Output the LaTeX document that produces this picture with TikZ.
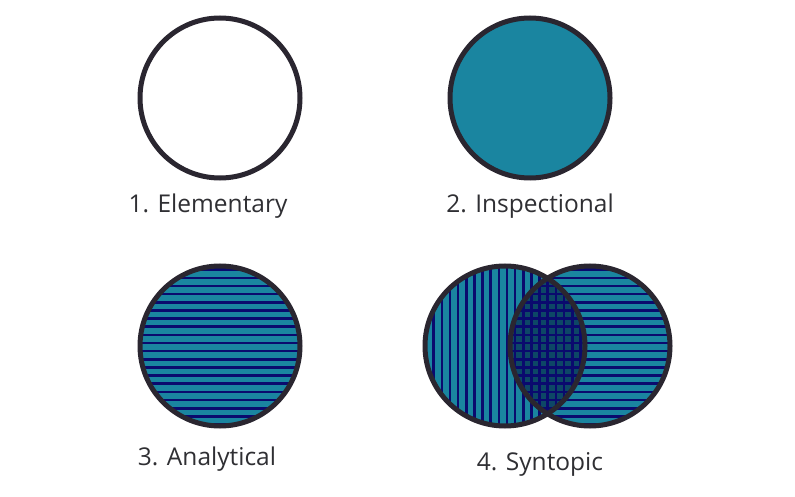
\documentclass[tikz,border=0pt]{standalone}
\usepackage{fontspec}
\setmainfont{Open Sans}
\usepackage{xcolor}
\usetikzlibrary{calc}

\definecolor{ring}{HTML}{2A2630}
\definecolor{teal}{HTML}{1A85A0}
\definecolor{navy}{HTML}{0A0A6E}
\definecolor{lens}{HTML}{0D4766}
\definecolor{caption}{HTML}{2F2F33}

\tikzset{
	outline/.style = {draw = ring, line width = 5pt},
	stripe/.style = {draw = navy, line width = 2.6pt},
	label/.style = {text = caption, font = \fontsize{24.5}{28}\selectfont, inner sep = 0pt}
}

\begin{document}
\begin{tikzpicture}[x = 1pt, y = -1pt]
			\def\R{80};
			\def\gap{8.15};

			\useasboundingbox (0,0) rectangle (795,497);

			% 1. plain circle
			\coordinate (elementary) at (220,98);
			\draw [outline, fill = white] (elementary) circle (\R);

			% 2. filled circle
			\coordinate (inspectional) at (530,98);
			\draw [outline, fill = teal] (inspectional) circle (\R);

			% 3. horizontal stripes
			\coordinate (analytical) at (220,346);
			\fill [teal] (analytical) circle (\R);
			\begin{scope}
				\clip (analytical) circle (\R);
				\foreach \k in {-10,...,10}
					\draw [stripe] ($(analytical) + (-\R, \k*\gap - 3)$) -- ++(2*\R, 0);
			\end{scope}
			\draw [outline] (analytical) circle (\R);

			% 4. two overlapping circles
			\coordinate (syntopicA) at (505,346);
			\coordinate (syntopicB) at (590,346);
			\fill [teal] (syntopicA) circle (\R);
			\fill [teal] (syntopicB) circle (\R);
			\begin{scope}
				\clip (syntopicA) circle (\R);
				\fill [lens] (syntopicB) circle (\R);
			\end{scope}
			\begin{scope}
				\clip (syntopicA) circle (\R);
				\foreach \k in {-10,...,10}
					\draw [stripe] ($(syntopicA) + (\k*\gap + 2, -\R)$) -- ++(0, 2*\R);
			\end{scope}
			\begin{scope}
				\clip (syntopicB) circle (\R);
				\foreach \k in {-10,...,10}
					\draw [stripe] ($(syntopicB) + (-\R, \k*\gap - 3)$) -- ++(2*\R, 0);
			\end{scope}
			\draw [outline] (syntopicA) circle (\R);
			\draw [outline] (syntopicB) circle (\R);

			% captions
			\node [label, anchor = base] (elementaryText) at (208,213) {1. Elementary};
			\node [label, anchor = base] (inspectionalText) at (530,213) {2. Inspectional};
			\node [label, anchor = base] (analyticalText) at (207,465) {3. Analytical};
			\node [label, anchor = base] (syntopicText) at (540,470) {4. Syntopic};
		\end{tikzpicture}
\end{document}
